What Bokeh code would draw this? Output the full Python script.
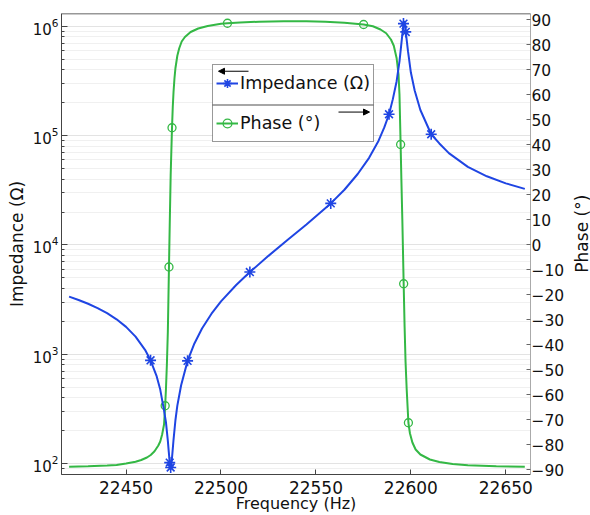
import math
from bokeh.plotting import figure
from bokeh.layouts import row
from bokeh.models import (Range1d, LinearAxis, LinearScale, FixedTicker, LogTicker, Legend,
                          LegendItem, Arrow, NormalHead, Span, BoxAnnotation, Label)
from bokeh.embed import file_html
from bokeh.resources import INLINE

# ---------------- data ----------------
imp_f = [22420, 22425, 22430, 22435, 22440, 22445, 22450, 22455, 22460, 22462.9,
         22466, 22468, 22470, 22471, 22472, 22472.5, 22473, 22473.5, 22474, 22474.5,
         22475, 22476, 22477, 22479, 22482.4, 22486, 22490, 22495, 22500, 22508,
         22515.2, 22525, 22535, 22545, 22557.8, 22565, 22572, 22578, 22583, 22586,
         22588.5, 22590.5, 22592.5, 22594, 22595.3, 22596.1, 22596.6, 22597.3, 22598.5, 22600,
         22602, 22605, 22610.7, 22615, 22620, 22630, 22640, 22650, 22660]
imp_z = [3365, 3139, 2900, 2646, 2376, 2088, 1781, 1451, 1098, 880,
         638, 475, 307, 239, 162, 128, 102, 92, 103, 130,
         165, 249, 339, 520, 870, 1256, 1720, 2351, 3048, 4300,
         5650, 7950, 11100, 15400, 24000, 32000, 44600, 62700, 90000, 119000,
         157000, 216000, 315000, 479000, 781000, 1060000, 1120000, 890000, 590000, 378000,
         259000, 171700, 103000, 84900, 69200, 51850, 42490, 36620, 32600]

imp_mark_f = [22462.9, 22473.0, 22473.5, 22482.4, 22515.2, 22557.8, 22588.5, 22596.1, 22597.3, 22610.7]
imp_mark_z = [880, 102, 92, 870, 5650, 24000, 157000, 1060000, 890000, 103000]

ph_f = [22420, 22430, 22440, 22445, 22450, 22455, 22458, 22461, 22463, 22465,
        22467, 22468, 22469, 22470, 22470.6, 22471, 22471.5, 22472, 22472.6, 22473,
        22473.5, 22474.2, 22474.6, 22475, 22475.5, 22476, 22477, 22478, 22479.3, 22481,
        22484, 22488, 22493, 22500, 22503.4, 22510, 22520, 22533, 22545, 22555,
        22565, 22575.1, 22580, 22584, 22587, 22589.5, 22591, 22592.5, 22593.5, 22594,
        22594.6, 22595, 22595.5, 22596.2, 22596.7, 22597.2, 22597.8, 22598.7, 22599.5, 22600.8,
        22602.5, 22605, 22610, 22615, 22622, 22630, 22645, 22660]
ph_deg = [-88.9, -88.7, -88.4, -88.2, -87.6, -86.9, -86.2, -85.2, -84.2, -82.7,
          -80.4, -78.8, -76.0, -72.0, -64.5, -58.0, -48.0, -35.0, -9.0, 8.0,
          28.0, 46.7, 55.0, 61.0, 66.5, 70.5, 75.5, 78.5, 81.2, 83.0,
          85.0, 86.4, 87.4, 88.3, 88.5, 88.8, 89.1, 89.3, 89.3, 89.1,
          88.7, 88.0, 87.3, 86.0, 84.5, 82.0, 79.5, 74.5, 68.0, 60.0,
          40.0, 26.0, 10.0, -15.7, -33.0, -47.0, -58.0, -71.3, -75.5, -79.2,
          -82.0, -84.0, -86.0, -87.0, -87.8, -88.3, -88.7, -88.9]

ph_mark_f = [22470.6, 22472.6, 22474.2, 22503.4, 22575.1, 22594.6, 22596.2, 22598.7]
ph_mark_deg = [-64.5, -9.0, 46.7, 88.5, 88.0, 40.0, -15.7, -71.3]

freq_ticks = [22450, 22500, 22550, 22600, 22650]
phase_ticks = [-90, -80, -70, -60, -50, -40, -30, -20, -10, 0, 10, 20, 30, 40, 50, 60, 70, 80, 90]

x_label = "Frequency (Hz)"
y_label = "Impedance (\u03a9)"
y2_label = "Phase (\u00b0)"
imp_name = "Impedance (\u03a9)"
ph_name = "Phase (\u00b0)"

# ---------------- styles / geometry ----------------
FONT = "DejaVu Sans"
BLUE = "#1f45e3"
GREEN = "#34b845"
AXC = "#444444"

W_TOTAL, H = 590, 515
W_SIDE = 18                     # narrow strip that carries the right axis title
W = W_TOTAL - W_SIDE
BL, BR, BT, BB = 61, 42, 13, 39
FW, FH = W - BL - BR, H - BT - BB
X0, X1 = 22416, 22663
P0, P1 = -92.0, 92.4
Z0, Z1 = 79.4, 1.312e6


def page_x(px):
    # page pixel -> frequency (legend decorations only)
    return X0 + (px - BL) / FW * (X1 - X0)


def page_ph(py):
    # page pixel -> phase-axis value (legend decorations only)
    return P1 - (py - BT) / FH * (P1 - P0)


def page_z(py):
    # page pixel -> impedance-axis value (legend decorations only)
    lt, lb = math.log10(Z1), math.log10(Z0)
    return 10 ** (lt - (py - BT) / FH * (lt - lb))


p = figure(width=W, height=H, output_backend="svg", toolbar_location=None,
           x_range=Range1d(X0, X1), y_range=Range1d(Z0, Z1),
           y_axis_type="log",
           min_border_left=BL, min_border_right=BR, min_border_top=BT, min_border_bottom=BB)
p.extra_y_ranges = {"phase": Range1d(P0, P1)}
p.extra_y_scales = {"phase": LinearScale()}
p.outline_line_color = None
p.background_fill_color = "white"
p.border_fill_color = "white"

p.xgrid.visible = False
p.ygrid.grid_line_color = "#e3e3e3"
p.ygrid.minor_grid_line_color = "#f0f0f0"

# left log axis
ya = p.yaxis[0]
ya.ticker = LogTicker(desired_num_ticks=5, num_minor_ticks=10)
ya.axis_label = y_label
ya.axis_line_color = AXC
ya.major_tick_line_color = AXC
ya.minor_tick_line_color = AXC
ya.major_tick_in = 6
ya.major_tick_out = 0
ya.minor_tick_in = 3
ya.minor_tick_out = 0
ya.major_label_standoff = 3
ya.axis_label_standoff = 3

# bottom axis
xa = p.xaxis[0]
xa.ticker = FixedTicker(ticks=freq_ticks)
xa.axis_label = x_label
xa.axis_line_color = AXC
xa.major_tick_line_color = AXC
xa.major_tick_in = 5
xa.major_tick_out = 0
xa.minor_tick_in = 0
xa.minor_tick_out = 0
xa.major_label_standoff = 6
xa.axis_label_standoff = -3

# right phase axis (its title sits in the side strip)
ra = LinearAxis(y_range_name="phase", ticker=FixedTicker(ticks=phase_ticks))
ra.axis_line_color = "#aaaaaa"
ra.major_tick_line_color = "#666666"
ra.major_tick_in = 4
ra.major_tick_out = 0
ra.minor_tick_in = 0
ra.minor_tick_out = 0
ra.major_label_standoff = 1
p.add_layout(ra, "right")

for ax in (ya, xa, ra):
    ax.major_label_text_font = FONT
    ax.major_label_text_color = "#111111"
    ax.axis_label_text_font = FONT
    ax.axis_label_text_font_style = "normal"
    ax.axis_label_text_color = "#111111"
ya.major_label_text_font_size = "15px"
xa.major_label_text_font_size = "17px"
ra.major_label_text_font_size = "15.5px"
ya.axis_label_text_font_size = "17px"
xa.axis_label_text_font_size = "16px"

# top frame line
top_line = Span(location=p.y_range.end, dimension="width", line_color="#333333", line_width=1.5)
p.add_layout(top_line)

# ---------------- glyphs ----------------
ph_line = p.line(ph_f, ph_deg, line_color=GREEN, line_width=2, y_range_name="phase")
ph_pts = p.scatter(ph_mark_f, ph_mark_deg, marker="circle", size=8, line_color=GREEN,
                   fill_color=None, line_width=1.3, y_range_name="phase")
imp_line = p.line(imp_f, imp_z, line_color=BLUE, line_width=2)
imp_pts = p.scatter(imp_mark_f, imp_mark_z, marker="asterisk", size=11, line_color=BLUE,
                    line_width=1.6)

# ---------------- legend ----------------
LG_L, LG_R, LG_T, LG_B = 212, 373, 68, 144
legend_bg = BoxAnnotation(left=page_x(LG_L), right=page_x(LG_R), top=page_z(LG_T), bottom=page_z(LG_B),
                          fill_color="white", fill_alpha=1.0, line_color=None)
p.add_layout(legend_bg)

head_l = NormalHead(size=6, fill_color="black", line_color="black")
head_r = NormalHead(size=6, fill_color="black", line_color="black")
separator = Arrow(x_start=page_x(LG_L), y_start=page_ph(105), x_end=page_x(LG_R), y_end=page_ph(105),
                  y_range_name="phase", end=None, line_color="#888888", line_width=1.5)
arrow_left = Arrow(x_start=page_x(248), y_start=page_ph(71), x_end=page_x(218), y_end=page_ph(71),
                   y_range_name="phase", end=head_l, line_color="black", line_width=1)
arrow_right = Arrow(x_start=page_x(338), y_start=page_ph(112), x_end=page_x(369), y_end=page_ph(112),
                    y_range_name="phase", end=head_r, line_color="black", line_width=1)
p.add_layout(separator)
p.add_layout(arrow_left)
p.add_layout(arrow_right)

legend = Legend(items=[LegendItem(label=imp_name, renderers=[imp_line, imp_pts]),
                       LegendItem(label=ph_name, renderers=[ph_line, ph_pts])],
                location=(LG_L - BL, (BT + FH) - LG_B))
legend.label_text_font = FONT
legend.label_text_font_size = "17.5px"
legend.label_text_color = "#111111"
legend.label_standoff = 2
legend.glyph_width = 22
legend.glyph_height = 30
legend.label_height = 30
legend.spacing = 10
legend.padding = 3
legend.margin = 0
legend.border_line_color = "#333333"
legend.border_line_width = 1
legend.background_fill_alpha = 0.0
p.add_layout(legend)

# ---------------- side strip with the right axis title ----------------
side = figure(width=W_SIDE, height=H, output_backend="svg", toolbar_location=None,
              x_range=Range1d(0, 1), y_range=Range1d(0, 1),
              x_axis_location=None, y_axis_location=None,
              min_border_left=0, min_border_right=0, min_border_top=0, min_border_bottom=0)
side.outline_line_color = None
side.xgrid.visible = False
side.ygrid.visible = False
side.background_fill_color = "white"
side.border_fill_color = "white"
side.add_layout(Label(x=0.5, y=1 - 246 / H, text=y2_label, angle=math.pi / 2,
                      text_align="center", text_baseline="middle", text_font=FONT,
                      text_font_size="17px", text_color="#111111"))

layout = row(p, side, spacing=0)

open("out.html", "w").write(file_html(layout, INLINE))
